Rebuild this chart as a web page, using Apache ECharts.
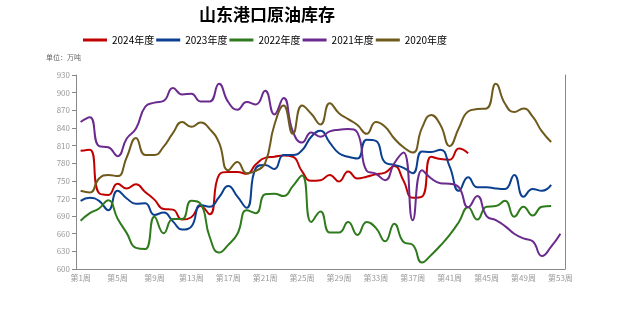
<!DOCTYPE html>
<html><head><meta charset="utf-8">
<script src="https://cdn.jsdelivr.net/npm/echarts@6/dist/echarts.min.js"></script>
<style>html,body{margin:0;padding:0;background:#fff}#c{width:621px;height:326px}</style>
</head><body><div id="c"></div>
<script>
const weeks = [];
for (let i = 1; i <= 53; i++) weeks.push('第' + i + '周');
const yTicks = [600, 630, 660, 690, 720, 750, 780, 810, 840, 870, 900, 930];
const seriesNames = ['2024年度', '2023年度', '2022年度', '2021年度', '2020年度'];
const y2024 = [801,803,729,726,745,737,744,731,718,702,701,684,688,707,693,760,765,765,762,778,789,791,793,791,766,750,751,760,749,766,754,757,761,764,775,750,721,723,791,787,786,805,797];
const y2023 = [716,721,716,700,733,720,711,712,692,696,681,667,672,709,706,722,741,723,704,772,777,770,794,794,802,825,835,815,797,791,788,820,818,781,777,772,763,800,799,803,774,733,756,739,739,737,736,760,723,736,733,743];
const y2022 = [682,695,703,717,686,661,636,634,689,661,685,685,716,711,654,628,641,660,700,695,727,728,724,741,759,680,698,662,662,680,658,680,670,647,677,646,641,611,624,640,658,680,705,684,706,707,716,689,706,691,706,707];
const y2021 = [850,858,809,807,792,822,839,876,883,886,908,897,898,885,885,915,884,871,884,880,903,863,891,834,815,832,825,834,837,838,832,767,762,751,780,798,683,768,754,746,745,739,705,724,690,683,673,660,652,647,622,638,660];
const y2020 = [733,730,754,760,758,790,823,794,794,808,831,850,842,849,838,815,768,782,763,767,780,845,878,830,878,864,846,882,865,855,845,830,850,842,822,807,798,840,862,845,809,840,868,872,873,915,881,867,873,859,834,816];
const colors = ['#C00000', '#0B3F8F', '#2E7A1C', '#6A2A8E', '#6E5A1C'];
const dataList = [y2024, y2023, y2022, y2021, y2020];

const chart = echarts.init(document.getElementById('c'));
const labelFont = '"Noto Sans CJK SC", sans-serif';
chart.setOption({
  animation: false,
  title: {
    text: '山东港口原油库存',
    left: 262, top: 1, textAlign: 'center',
    textStyle: { fontSize: 17, fontWeight: 'bold', color: '#000', fontFamily: labelFont }
  },
  legend: {
    data: seriesNames,
    left: 78, top: 30,
    icon: 'rect',
    itemWidth: 24, itemHeight: 3, itemGap: 2,
    textStyle: { fontSize: 10, color: '#000', fontFamily: labelFont }
  },
  graphic: [{
    type: 'text', left: 46, top: 54,
    style: { text: '单位：万吨', fontSize: 7, fill: '#666', fontFamily: labelFont }
  }],
  grid: { left: 76, right: 56, top: 75, bottom: 57 },
  xAxis: {
    type: 'category', data: weeks, boundaryGap: true,
    axisLine: { lineStyle: { color: '#888' } },
    axisTick: { alignWithLabel: false, length: 4, lineStyle: { color: '#888' } },
    axisLabel: { interval: 3, fontSize: 8, color: '#999', margin: 5, fontFamily: labelFont }
  },
  yAxis: [{
    type: 'value', min: yTicks[0], max: yTicks[yTicks.length - 1], interval: 30,
    axisLine: { show: true, lineStyle: { color: '#888' } },
    axisTick: { show: true, length: 4, lineStyle: { color: '#888' } },
    axisLabel: { fontSize: 8, color: '#999', margin: 6, fontFamily: labelFont },
    splitLine: { show: false }
  }, {
    type: 'value', position: 'right', min: yTicks[0], max: yTicks[yTicks.length - 1], interval: 30,
    axisLine: { show: true, lineStyle: { color: '#888' } },
    axisTick: { show: false }, axisLabel: { show: false }, splitLine: { show: false }
  }],
  series: seriesNames.map((n, i) => ({
    name: n, type: 'line', data: dataList[i], smooth: true, symbol: 'none',
    lineStyle: { width: 2, color: colors[i] }, itemStyle: { color: colors[i] }
  }))
});
</script>
</body></html>
